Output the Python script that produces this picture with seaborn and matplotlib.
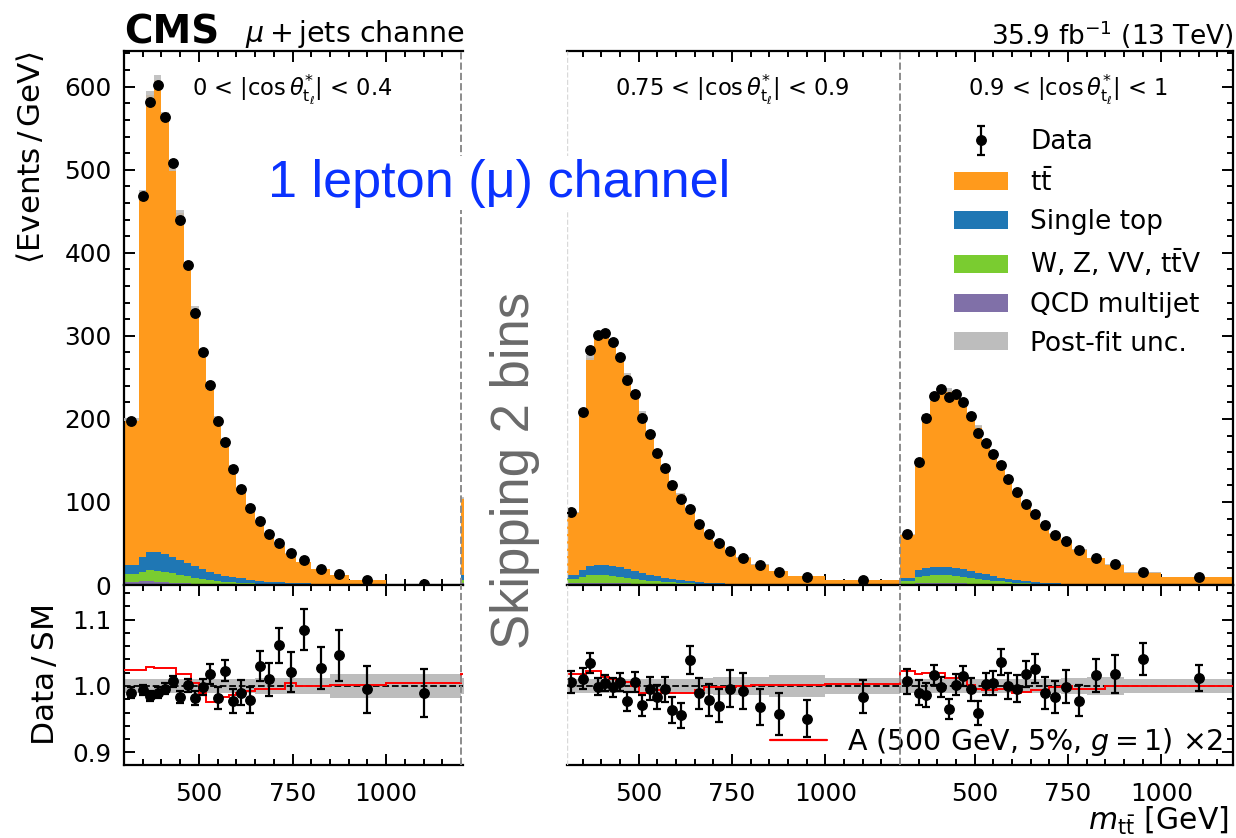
import numpy as np
import pandas as pd
import matplotlib
matplotlib.use("Agg")
import matplotlib.pyplot as plt
from matplotlib.lines import Line2D
from matplotlib.patches import Patch
from matplotlib.legend_handler import HandlerErrorbar
import matplotlib.transforms as mtransforms
import seaborn as sns

# ---------------------------------------------------------------- data
mtt_edges = [300, 340, 360, 380, 400, 420, 440, 460, 480, 500, 520, 540, 560, 580, 600,
             625, 650, 675, 700, 730, 760, 800, 850, 900, 1000, 1200]
mtt_major_ticks = [500, 750, 1000]
cos_labels = [r"0 < |cos$\,\theta^{*}_{\mathrm{t}_{\ell}}$| < 0.4",
              r"0.75 < |cos$\,\theta^{*}_{\mathrm{t}_{\ell}}$| < 0.9",
              r"0.9 < |cos$\,\theta^{*}_{\mathrm{t}_{\ell}}$| < 1"]
process_names = [r"$\mathrm{t\bar{t}}$", "Single top", r"W, Z, VV, $\mathrm{t\bar{t}}$V", "QCD multijet"]
process_colors = ["#ff9a1c", "#1f77b4", "#7acc30", "#8070a8"]

# 0 < |cos| < 0.4
data_c0 = [197, 469, 581, 602, 563, 508, 440, 385, 327, 281, 241, 197, 172, 140, 116, 93,
           77.5, 62, 51, 39, 30, 19.7, 12.9, 6, 1.6]
tt_c0 = [175, 438, 550, 568, 527, 470, 417, 358, 310, 262, 221, 188, 157, 133.5, 109, 88.7,
         70, 57.4, 44.8, 35.7, 25.8, 18, 11.5, 5.5, 1.4]
st_c0 = [11, 18, 22, 23, 22, 20, 18, 16, 14, 12, 10, 8.5, 7, 6, 5, 4, 3.2, 2.6, 2.1, 1.6,
         1.2, 0.8, 0.5, 0.3, 0.12]
ewk_c0 = [9, 11, 13, 13, 12, 11, 10, 9, 7, 6, 5, 4, 3.5, 3, 2.5, 2, 1.6, 1.3, 1, 0.8, 0.6,
          0.4, 0.3, 0.2, 0.1]
qcd_c0 = [4, 4.5, 4.5, 4, 3.5, 3, 2.5, 2, 1.5, 1.2, 1, 0.8, 0.6, 0.5, 0.4, 0.3, 0.2, 0.15,
          0.1, 0.1, 0.05, 0.05, 0.03, 0.02, 0.01]
ratio_c0 = [0.990, 0.994, 0.985, 0.990, 0.996, 1.007, 0.983, 1.001, 0.982, 0.999, 1.018, 0.982,
            1.023, 0.977, 0.990, 0.979, 1.030, 1.010, 1.061, 1.021, 1.085, 1.027, 1.046, 0.995, 0.989]
ratio_err_c0 = [0.008, 0.008, 0.008, 0.008, 0.008, 0.008, 0.009, 0.010, 0.011, 0.012, 0.015, 0.016,
                0.016, 0.018, 0.019, 0.019, 0.023, 0.025, 0.026, 0.030, 0.031, 0.032, 0.039, 0.035, 0.036]
unc_c0 = [0.010, 0.010, 0.010, 0.010, 0.010, 0.010, 0.010, 0.010, 0.010, 0.010, 0.011, 0.011,
          0.011, 0.011, 0.011, 0.011, 0.012, 0.012, 0.012, 0.012, 0.012, 0.012, 0.018, 0.018, 0.018]
signal_c0 = [1.024, 1.024, 1.028, 1.027, 1.027, 1.027, 1.018, 1.018, 1.004, 0.989, 0.976, 0.976,
             0.984, 0.986, 0.989, 0.993, 0.996, 0.996, 0.996, 1.004, 1.000, 1.000, 1.001, 1.001, 1.004]

# first bin of the next (skipped) |cos| slice, visible at the right edge of the left panel
next_bin_tt = [93]
next_bin_st = [6]
next_bin_ewk = [4]
next_bin_qcd = [2]
next_bin_signal = [1.018]
next_bin_unc = [0.012]

# 0.75 < |cos| < 0.9
data_c3 = [88, 208, 283, 301, 304, 293, 275, 247, 230, 201, 182, 159, 141, 120, 104, 92, 74,
           62, 51, 41, 33, 24, 16, 10, 6]
tt_c3 = [75.5, 187, 251, 277, 279, 271, 252, 234, 212, 193, 170, 151, 133, 117, 103, 83.7,
         71, 60.4, 50.3, 39.5, 32, 24, 16.2, 10.2, 5.9]
st_c3 = [4.5, 9, 11, 12, 12, 11.5, 11, 10, 9, 8, 7, 6, 5, 4.2, 3.5, 2.8, 2.2, 1.7, 1.3, 1,
         0.7, 0.5, 0.3, 0.2, 0.08]
ewk_c3 = [5.5, 7, 8.5, 9, 9, 8.5, 8, 7, 6, 5, 4.3, 3.6, 3, 2.5, 2, 1.6, 1.3, 1, 0.8, 0.6,
          0.45, 0.3, 0.2, 0.12, 0.06]
qcd_c3 = [2, 2.5, 3, 3, 3, 2.5, 2.2, 2, 1.6, 1.3, 1.1, 0.9, 0.7, 0.6, 0.5, 0.4, 0.3, 0.25,
          0.2, 0.15, 0.1, 0.08, 0.05, 0.03, 0.02]
ratio_c3 = [1.006, 1.011, 1.034, 0.999, 1.004, 0.998, 1.006, 0.977, 1.006, 0.971, 0.996, 0.983,
            0.995, 0.964, 0.956, 1.039, 0.989, 0.979, 0.970, 0.996, 0.992, 0.968, 0.958, 0.951, 0.984]
ratio_err_c3 = [0.017, 0.016, 0.015, 0.013, 0.012, 0.014, 0.014, 0.014, 0.015, 0.016, 0.017, 0.018,
                0.019, 0.020, 0.019, 0.021, 0.023, 0.024, 0.025, 0.028, 0.027, 0.027, 0.032, 0.028, 0.025]
unc_c3 = [0.011, 0.011, 0.011, 0.011, 0.011, 0.011, 0.011, 0.011, 0.011, 0.011, 0.011, 0.011,
          0.011, 0.011, 0.011, 0.011, 0.012, 0.012, 0.013, 0.013, 0.014, 0.014, 0.016, 0.016, 0.012]
signal_c3 = [1.018, 1.018, 1.023, 1.023, 1.013, 1.010, 1.008, 1.006, 1.000, 0.990, 0.990, 0.994,
             0.989, 0.989, 0.989, 0.989, 0.994, 0.998, 0.998, 0.998, 1.000, 1.001, 1.001, 1.001, 1.003]

# 0.9 < |cos| < 1
data_c4 = [61, 148, 201, 228, 236, 226.5, 230, 220, 203, 183.5, 171, 158, 145, 128, 112, 97.6,
           85.5, 72, 60.6, 53.4, 41.8, 33, 25, 15.7, 10]
tt_c4 = [51.6, 132, 183, 202, 214, 213, 209, 197.5, 187, 176, 158, 147, 131, 121, 106.6, 91.3,
         79.7, 70, 59.4, 51.9, 41.6, 31.7, 24, 14.8, 9.7]
st_c4 = [4, 8, 9.5, 10, 10, 10, 9.5, 9, 8.5, 7.5, 6.5, 5.5, 4.5, 3.8, 3.1, 2.5, 2, 1.5, 1.2,
         0.9, 0.6, 0.4, 0.3, 0.18, 0.08]
ewk_c4 = [3.5, 7, 8.5, 9, 9, 9, 8.5, 8, 7, 6, 5, 4.2, 3.5, 2.8, 2.2, 1.7, 1.3, 1, 0.8, 0.6,
          0.45, 0.3, 0.2, 0.12, 0.06]
qcd_c4 = [1.5, 2.5, 2.8, 3, 3, 2.8, 2.5, 2.2, 1.8, 1.5, 1.2, 1, 0.8, 0.6, 0.5, 0.4, 0.3, 0.25,
          0.2, 0.15, 0.1, 0.08, 0.05, 0.03, 0.02]
ratio_c4 = [1.007, 0.990, 0.986, 1.017, 0.999, 0.965, 1.002, 1.015, 0.995, 0.959, 1.003, 1.004,
            1.036, 1.000, 0.996, 1.018, 1.026, 0.989, 0.984, 0.999, 0.978, 1.016, 1.018, 1.041, 1.012]
ratio_err_c4 = [0.019, 0.019, 0.018, 0.015, 0.015, 0.015, 0.016, 0.015, 0.017, 0.018, 0.017, 0.018,
                0.020, 0.019, 0.020, 0.020, 0.022, 0.024, 0.024, 0.025, 0.023, 0.025, 0.029, 0.024, 0.020]
unc_c4 = [0.010, 0.010, 0.010, 0.010, 0.010, 0.010, 0.010, 0.010, 0.010, 0.010, 0.010, 0.010,
          0.010, 0.010, 0.010, 0.010, 0.011, 0.011, 0.011, 0.012, 0.012, 0.013, 0.013, 0.011, 0.011]
signal_c4 = [1.022, 1.018, 1.019, 1.020, 1.020, 1.012, 1.012, 1.010, 1.002, 0.996, 0.994, 0.994,
             0.995, 0.995, 0.989, 0.991, 0.994, 0.994, 0.998, 1.000, 0.995, 0.995, 1.000, 1.000, 1.000]

# ---------------------------------------------------------------- style
sns.set_theme(style="ticks")
plt.rcParams["font.family"] = ["DejaVu Sans"]
plt.rcParams["mathtext.fontset"] = "dejavusans"
for key in ("text.color", "axes.labelcolor", "xtick.color", "ytick.color", "axes.edgecolor"):
    plt.rcParams[key] = "black"

W, H = 1236, 838
fig = plt.figure(figsize=(W / 100, H / 100), dpi=100)


def axrect(x0, x1, y0, y1):
    return [x0 / W, 1 - y1 / H, (x1 - x0) / W, (y1 - y0) / H]


axL = fig.add_axes(axrect(124, 463, 51, 585))
axLr = fig.add_axes(axrect(124, 463, 585, 765))
axR = fig.add_axes(axrect(567, 1233, 51, 585))
axRr = fig.add_axes(axrect(567, 1233, 585, 765))

SEG = 900  # width of one |cos| slice in the concatenated axis (GeV)
TICK_FS = 17.8


def seg_edges(offset, edges=mtt_edges):
    return [offset + e - mtt_edges[0] for e in edges]


def centers(edges):
    return [(a + b) / 2 for a, b in zip(edges[:-1], edges[1:])]


def draw_stack(ax, edges, procs):
    rows = []
    cs = centers(edges)
    for name, vals in zip(process_names, procs):
        for c, v in zip(cs, vals):
            rows.append({"x": c, "w": v, "process": name})
    df = pd.DataFrame(rows)
    sns.histplot(data=df, x="x", weights="w", hue="process", hue_order=process_names,
                 palette=dict(zip(process_names, process_colors)), bins=edges,
                 multiple="stack", element="step", fill=True, alpha=1, linewidth=0,
                 legend=False, ax=ax)


def draw_panels(ax, axr, segs, extra, xlim):
    all_edges, procs = [], [[], [], [], []]
    sm_vals, unc_vals, sig_vals = [], [], []
    for (off, d, tt, st, ewk, qcd, r, re, u, s) in segs:
        e = seg_edges(off)
        all_edges = e if not all_edges else all_edges + e[1:]
        for p, v in zip(procs, (tt, st, ewk, qcd)):
            p.extend(v)
        sm_vals.extend([a + b + c + dd for a, b, c, dd in zip(tt, st, ewk, qcd)])
        unc_vals.extend(u)
        sig_vals.extend(s)
    if extra is not None:
        off, tt, st, ewk, qcd, u, s = extra
        all_edges = all_edges + seg_edges(off, mtt_edges[:2])[1:]
        for p, v in zip(procs, (tt, st, ewk, qcd)):
            p.extend(v)
        sm_vals.extend([a + b + c + dd for a, b, c, dd in zip(tt, st, ewk, qcd)])
        unc_vals.extend(u)
        sig_vals.extend(s)

    draw_stack(ax, all_edges, procs)
    sm = np.array(sm_vals)
    un = np.array(unc_vals)
    ax.fill_between(all_edges, np.r_[sm * (1 - un), sm[-1] * (1 - un[-1])],
                    np.r_[sm * (1 + un), sm[-1] * (1 + un[-1])], step="post",
                    color="#bdbdbd", lw=0, alpha=0.9, zorder=3)
    axr.fill_between(all_edges, np.r_[1 - un, 1 - un[-1]], np.r_[1 + un, 1 + un[-1]],
                     step="post", color="#bdbdbd", lw=0, zorder=1)
    axr.axhline(1.0, color="black", ls="--", lw=1.3, zorder=2)
    axr.stairs(sig_vals, all_edges, color="#ff0000", lw=1.4, baseline=None, zorder=3)

    cont = None
    for (off, d, tt, st, ewk, qcd, r, re, u, s) in segs:
        cs = centers(seg_edges(off))
        d = np.array(d)
        ax.errorbar(cs, d, yerr=d * np.array(re), fmt="o", color="black", ms=6.8,
                    elinewidth=1.5, capsize=0, zorder=5)
        cont = axr.errorbar(cs, r, yerr=re, fmt="o", color="black", ms=6.8,
                            elinewidth=1.6, capsize=2.6, capthick=1.6, zorder=5)

    ax.set_xlim(*xlim)
    axr.set_xlim(*xlim)
    ax.set_ylim(0, 643)
    axr.set_ylim(0.881, 1.152)
    ax.set_xlabel("")
    ax.set_ylabel("")

    offs = [sgm[0] for sgm in segs]
    major = [o + t - mtt_edges[0] for o in offs for t in mtt_major_ticks]
    labels = [str(t) for o in offs for t in mtt_major_ticks]
    minor = [o + m - mtt_edges[0] for o in offs for m in range(350, 1200, 50)
             if m not in mtt_major_ticks]
    for a in (ax, axr):
        a.set_xticks(major)
        a.set_xticks(minor, minor=True)
        a.tick_params(which="both", direction="in", top=True, bottom=True,
                      labelsize=TICK_FS, width=1.4, pad=12)
        a.tick_params(which="major", length=8)
        a.tick_params(which="minor", length=4.5)
        for sp in a.spines.values():
            sp.set_linewidth(1.6)
    axr.set_xticklabels(labels)
    ax.tick_params(labelbottom=False)
    ax.yaxis.set_major_locator(plt.MultipleLocator(100))
    ax.yaxis.set_minor_locator(plt.MultipleLocator(20))
    axr.yaxis.set_major_locator(plt.MultipleLocator(0.1))
    axr.yaxis.set_minor_locator(plt.MultipleLocator(0.02))
    return cont


left_segs = [(0, data_c0, tt_c0, st_c0, ewk_c0, qcd_c0, ratio_c0, ratio_err_c0, unc_c0, signal_c0)]
right_segs = [(0, data_c3, tt_c3, st_c3, ewk_c3, qcd_c3, ratio_c3, ratio_err_c3, unc_c3, signal_c3),
              (SEG, data_c4, tt_c4, st_c4, ewk_c4, qcd_c4, ratio_c4, ratio_err_c4, unc_c4, signal_c4)]

draw_panels(axL, axLr, left_segs,
            (SEG, next_bin_tt, next_bin_st, next_bin_ewk, next_bin_qcd, next_bin_unc, next_bin_signal),
            (0, 905))
data_handle = draw_panels(axR, axRr, right_segs, None, (8, 1792))

# left panel: y axis on the left only
for a in (axL, axLr):
    a.spines["right"].set_visible(False)
    a.tick_params(which="both", left=True, right=False, labelleft=True)
    a.tick_params(axis="y", pad=9)
# right panel: y ticks on the right only, no labels
for a in (axR, axRr):
    a.spines["left"].set_visible(False)
    a.tick_params(which="both", left=False, right=True, labelleft=False, labelright=False)

# slice boundaries
for a in (axL, axLr):
    a.axvline(SEG, color="#8c8c8c", ls="--", lw=1.4, zorder=6)
for a in (axR, axRr):
    a.axvline(SEG, color="#8c8c8c", ls="--", lw=1.4, zorder=6)
    a.axvline(9, color="#d9d9d9", ls="--", lw=1.0, zorder=6)

# slice labels
for ax, off, lab in ((axL, 0, cos_labels[0]), (axR, 0, cos_labels[1]), (axR, SEG, cos_labels[2])):
    tr = mtransforms.blended_transform_factory(ax.transData, ax.transAxes)
    ax.text(off + 450, 0.929, lab, transform=tr, ha="center", va="center", fontsize=16.3)

# axis labels
axL.set_ylabel(r"$\langle$Events$\,/\,$GeV$\rangle$", loc="top", fontsize=22.3, labelpad=13)
axLr.set_ylabel(r"Data$\,/\,$SM", fontsize=22.5, labelpad=9)
fig.text(1229 / W, 1 - 830 / H, r"$m_{\mathrm{t\bar{t}}}$ [GeV]", fontsize=21.5,
         ha="right", va="baseline")

# legends
leg_handles = [data_handle] + [Patch(facecolor=c, edgecolor="none") for c in process_colors] + \
              [Patch(facecolor="#bdbdbd", edgecolor="none")]
leg_labels = ["Data"] + process_names + ["Post-fit unc."]
axR.legend(leg_handles, leg_labels, loc="upper left", bbox_to_anchor=(0.581, 0.853),
           frameon=False, fontsize=19, borderpad=0, borderaxespad=0,
           handlelength=2.05, handleheight=0.68, handletextpad=0.83, labelspacing=0.48,
           handler_map={type(data_handle): HandlerErrorbar(yerr_size=0.55)})
axRr.legend([Line2D([0], [0], color="#ff0000", lw=1.6)],
            [r"A (500 GeV, 5%, $g = 1$) $\times$2"], loc="center left",
            bbox_to_anchor=(0.305, 0.128), frameon=False, fontsize=20.5, borderpad=0,
            borderaxespad=0, handlelength=2.0, handletextpad=0.7)

# header texts
fig.text(124 / W, 1 - 43 / H, "CMS", fontsize=28, fontweight="bold", ha="left", va="baseline")
fig.text(245 / W, 1 - 42 / H, r"$\mu+$jets channe", fontsize=20.5, ha="left", va="baseline")
fig.text(1233 / W, 1 - 45 / H, r"35.9 fb$^{-1}$ (13 TeV)", fontsize=19, ha="right", va="baseline")

# annotations laid over the figure
fig.text(268 / W, 1 - 183 / H, "1 lepton (μ) channel", fontsize=37.5, color="#0a32ff",
         family=["Liberation Sans", "DejaVu Sans"], ha="left", va="center",
         bbox=dict(facecolor="white", edgecolor="none", pad=2))
fig.text(515 / W, 1 - 470 / H, "Skipping 2 bins", fontsize=38, color="#6a6a6a", rotation=90,
         family=["Liberation Sans", "DejaVu Sans"], ha="center", va="center")

fig.savefig("out.png", dpi=100)
